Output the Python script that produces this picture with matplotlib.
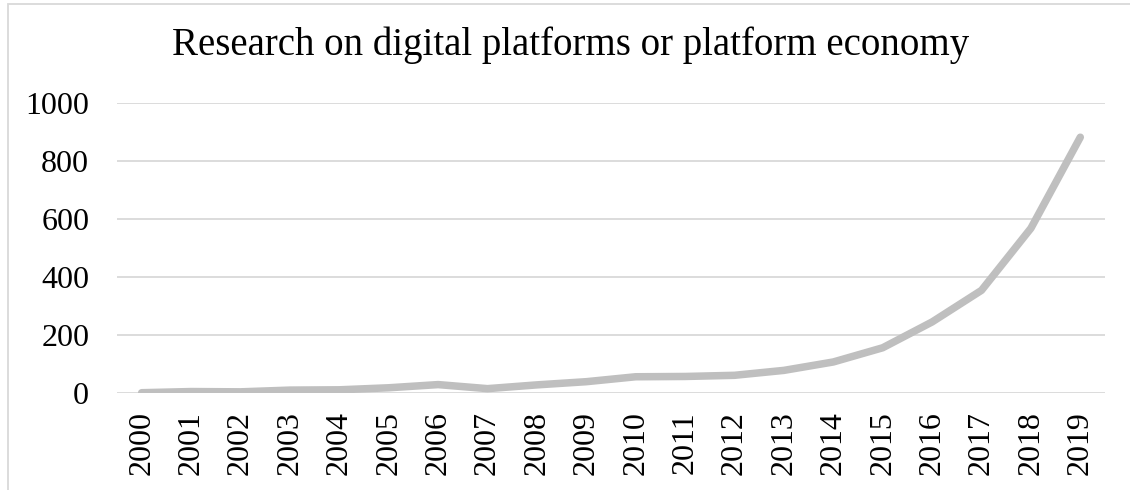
import matplotlib.pyplot as plt
from matplotlib.patches import Rectangle

# values
years = ['2000', '2001', '2002', '2003', '2004', '2005', '2006', '2007', '2008', '2009',
         '2010', '2011', '2012', '2013', '2014', '2015', '2016', '2017', '2018', '2019']
papers = [1, 5, 4, 10, 11, 18, 29, 15, 28, 39,
          56, 57, 61, 78, 107, 156, 245, 354, 568, 882]
y_ticks = [0, 200, 400, 600, 800, 1000]

plt.rcParams['font.family'] = ['Liberation Serif', 'DejaVu Serif']

fig = plt.figure(figsize=(11.3, 4.9), dpi=100)
ax = fig.add_axes([117 / 1130, 1 - 393 / 490, 988 / 1130, 290 / 490])

x = list(range(len(years)))
ax.plot(x, papers, color='#BFBFBF', linewidth=5.4, solid_capstyle='round',
        solid_joinstyle='round', zorder=3)

ax.set_xlim(-0.5, len(years) - 0.5)
ax.set_ylim(0, 1000)
ax.set_yticks(y_ticks)
ax.set_yticklabels([str(v) for v in y_ticks], fontsize=23)
ax.set_xticks(x)
ax.set_xticklabels(years, rotation=90, fontsize=23)
ax.tick_params(axis='both', length=0, colors='black')
ax.tick_params(axis='y', pad=20)
ax.tick_params(axis='x', pad=13)

ax.grid(axis='y', color='#D9D9D9', linewidth=1.3)
ax.set_axisbelow(True)
for s in ax.spines.values():
    s.set_visible(False)

fig.text(0.505, 1 - 45 / 490, 'Research on digital platforms or platform economy',
         ha='center', va='center', fontsize=28)

# light frame of the chart area (cut off right and bottom)
fig.patches.append(Rectangle((8 / 1130, -0.1), 1.2, 1.1 - 4 / 490,
                             transform=fig.transFigure, fill=False,
                             edgecolor='#D9D9D9', linewidth=1.3))

fig.savefig('out.png', dpi=100)
